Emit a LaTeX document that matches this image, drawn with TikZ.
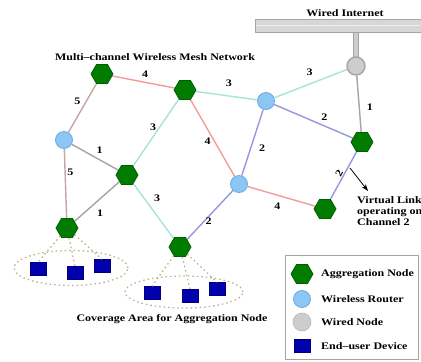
\documentclass[tikz,border=0pt]{standalone}
\usepackage{fontspec}
\setmainfont[FakeStretch=1.2]{Liberation Serif}
\usetikzlibrary{shapes.geometric,arrows.meta}

\pgfdeclarelayer{links}
\pgfsetlayers{links,main}

\definecolor{aggGreen}{RGB}{0,125,0}
\definecolor{aggEdge}{RGB}{0,95,0}
\definecolor{routerBlue}{RGB}{140,198,245}
\definecolor{routerEdge}{RGB}{110,170,230}
\definecolor{wiredGray}{RGB}{205,205,205}
\definecolor{wiredEdge}{RGB}{165,165,165}
\definecolor{devBlue}{RGB}{0,0,175}
\definecolor{chOne}{RGB}{168,162,162}
\definecolor{chTwo}{RGB}{150,150,225}
\definecolor{chThree}{RGB}{165,228,218}
\definecolor{chFour}{RGB}{242,155,155}
\definecolor{chFive}{RGB}{195,165,165}
\definecolor{covDot}{RGB}{185,180,145}

\tikzset{
  x=1pt, y=-1pt,
  txt/.style={font=\bfseries\fontsize{10}{11}\selectfont, inner sep=1pt, text=black},
  lbl/.style={font=\bfseries\fontsize{10}{11}\selectfont, inner sep=0.5pt, text=black},
  aggnode/.style={regular polygon, regular polygon sides=6, minimum size=22pt,
    inner sep=0pt, fill=aggGreen, draw=aggEdge, line width=0.8pt},
  routernode/.style={circle, minimum size=17pt, inner sep=0pt,
    fill=routerBlue, draw=routerEdge, line width=0.8pt},
  wirednode/.style={circle, minimum size=18pt, inner sep=0pt,
    fill=wiredGray, draw=wiredEdge, line width=1.4pt},
  devnode/.style={rectangle, minimum width=16pt, minimum height=13pt, inner sep=0pt,
    fill=devBlue, draw=devBlue!70!black, line width=0.6pt},
  link/.style={line width=1.4pt},
  c1/.style={link, chOne},
  c2/.style={link, chTwo},
  c3/.style={link, chThree},
  c4/.style={link, chFour},
  c5/.style={link, chFive},
  cover/.style={covDot, line width=1.3pt, dash pattern=on 1.5pt off 3pt},
  feed/.style={covDot, line width=1.3pt, dash pattern=on 1.5pt off 3pt},
}

\begin{document}
\begin{tikzpicture}
\useasboundingbox (0,0) rectangle (421,362);

% wired backbone
\node[rectangle, minimum width=166pt, minimum height=13pt, inner sep=0pt,
      fill=wiredGray!80, draw=wiredEdge, line width=0.8pt] (inet) at (338,25.5) {};
\draw[white!70!wiredGray, line width=1pt] ([xshift=1pt]inet.west) -- ([xshift=-1pt]inet.east);
\node[txt] (inettxt) at (345,13) {Wired Internet};

% mesh nodes
\node[aggnode] (g1) at (102,74) {};
\node[aggnode] (g2) at (185,90) {};
\node[routernode] (r1) at (64,140) {};
\node[aggnode] (g3) at (127,175) {};
\node[aggnode] (g4) at (67,228) {};
\node[aggnode] (g5) at (180,247) {};
\node[routernode] (r2) at (266,101) {};
\node[routernode] (r3) at (239,184) {};
\node[wirednode] (w) at (356,66) {};
\node[aggnode] (g6) at (362,142) {};
\node[aggnode] (g7) at (325,209) {};

\begin{pgfonlayer}{links}
% uplink from the backbone to the wired node
\coordinate (drop) at (inet.south -| w);
\draw[wiredEdge, line width=6pt] (drop) -- (w.center);
\draw[wiredGray, line width=4pt] ([yshift=-0.5pt]drop) -- (w.center);

% channel-coloured links
\draw[c4] (g1) -- node[lbl, xshift=1.5pt, yshift=8pt] {4} (g2);
\draw[c5] (g1) -- node[lbl, xshift=-5pt, yshift=7pt] {5} (r1);
\draw[c1] (r1) -- node[lbl, xshift=4.5pt, yshift=7pt] {1} (g3);
\draw[c3] (g2) -- node[lbl, xshift=-3pt, yshift=5.5pt] {3} (g3);
\draw[c5] (r1) -- node[lbl, xshift=5pt, yshift=11pt] {5} (g4);
\draw[c3] (g2) -- node[lbl, xshift=2.5pt, yshift=12.5pt] {3} (r2);
\draw[c3] (r2) -- node[lbl, xshift=-1pt, yshift=11.5pt] {3} (w);
\draw[c1] (w) -- node[lbl, xshift=11pt, yshift=-3pt] {1} (g6);
\draw[c2] (r2) -- node[lbl, xshift=11pt, yshift=4.5pt] {2} (g6);
\draw[c4] (g2) -- node[lbl, xshift=-5pt, yshift=-3pt] {4} (r3);
\draw[c2] (r2) -- node[lbl, xshift=9.5pt, yshift=-5.5pt] {2} (r3);
\draw[c3] (g3) -- node[lbl, xshift=3.5pt, yshift=13pt] {3} (g5);
\draw[c1] (g3) -- node[lbl, xshift=3pt, yshift=-11.5pt] {1} (g4);
\draw[c2] (r3) -- node[lbl, xshift=-1.5pt, yshift=-6.5pt] {2} (g5);
\draw[c4] (r3) -- node[lbl, xshift=-4pt, yshift=-9.5pt] {4} (g7);
\draw[c2] (g6) -- node[lbl, sloped, yshift=5pt] {2} (g7);
\end{pgfonlayer}

% virtual link annotation
\coordinate (vstart) at (350,168);
\coordinate (vend) at (368,191);
\draw[black, line width=0.8pt, -{Stealth[length=7pt, width=5pt]}] (vstart) -- (vend);
\node[txt, anchor=north west, align=left, inner sep=0pt] (vtxt) at (357,196)
  {Virtual Link\\operating on\\Channel 2};

% titles
\node[txt] (title) at (155,57) {Multi--channel Wireless Mesh Network};
\node[txt] (covtxt) at (172,319) {Coverage Area for Aggregation Node};

% coverage areas and end-user devices
\node[ellipse, minimum width=114pt, minimum height=35pt, cover, draw] (cova) at (71,268) {};
\node[ellipse, minimum width=118pt, minimum height=32pt, cover, draw] (covb) at (184,292) {};

\node[devnode] (d1) at (38,269) {};
\node[devnode] (d2) at (75,273) {};
\node[devnode] (d3) at (102,266) {};
\node[devnode] (d4) at (152,293) {};
\node[devnode] (d5) at (190,296) {};
\node[devnode] (d6) at (217,289) {};

\draw[feed] (g4) -- (d1.north);
\draw[feed] (g4) -- (d2.north);
\draw[feed] (g4) -- (d3.north);
\draw[feed] (g5) -- (d4.north);
\draw[feed] (g5) -- (d5.north);
\draw[feed] (g5) -- (d6.north);

% legend
\node[rectangle, draw=wiredEdge, line width=1pt, minimum width=133pt, minimum height=104pt,
      inner sep=0pt] (legend) at (351.5,307) {};
\node[aggnode] (lagg) at (302,274) {};
\node[routernode] (lrt) at (302,299) {};
\node[wirednode, line width=0.6pt, draw=wiredGray!90!black] (lwd) at (302,322) {};
\node[devnode] (ldev) at (302,346) {};
\node[txt, anchor=west] (tagg) at (320,274) {Aggregation Node};
\node[txt, anchor=west] (trt) at (320,299) {Wireless Router};
\node[txt, anchor=west] (twd) at (320,322) {Wired Node};
\node[txt, anchor=west] (tdev) at (320,346) {End--user Device};
\end{tikzpicture}
\end{document}
